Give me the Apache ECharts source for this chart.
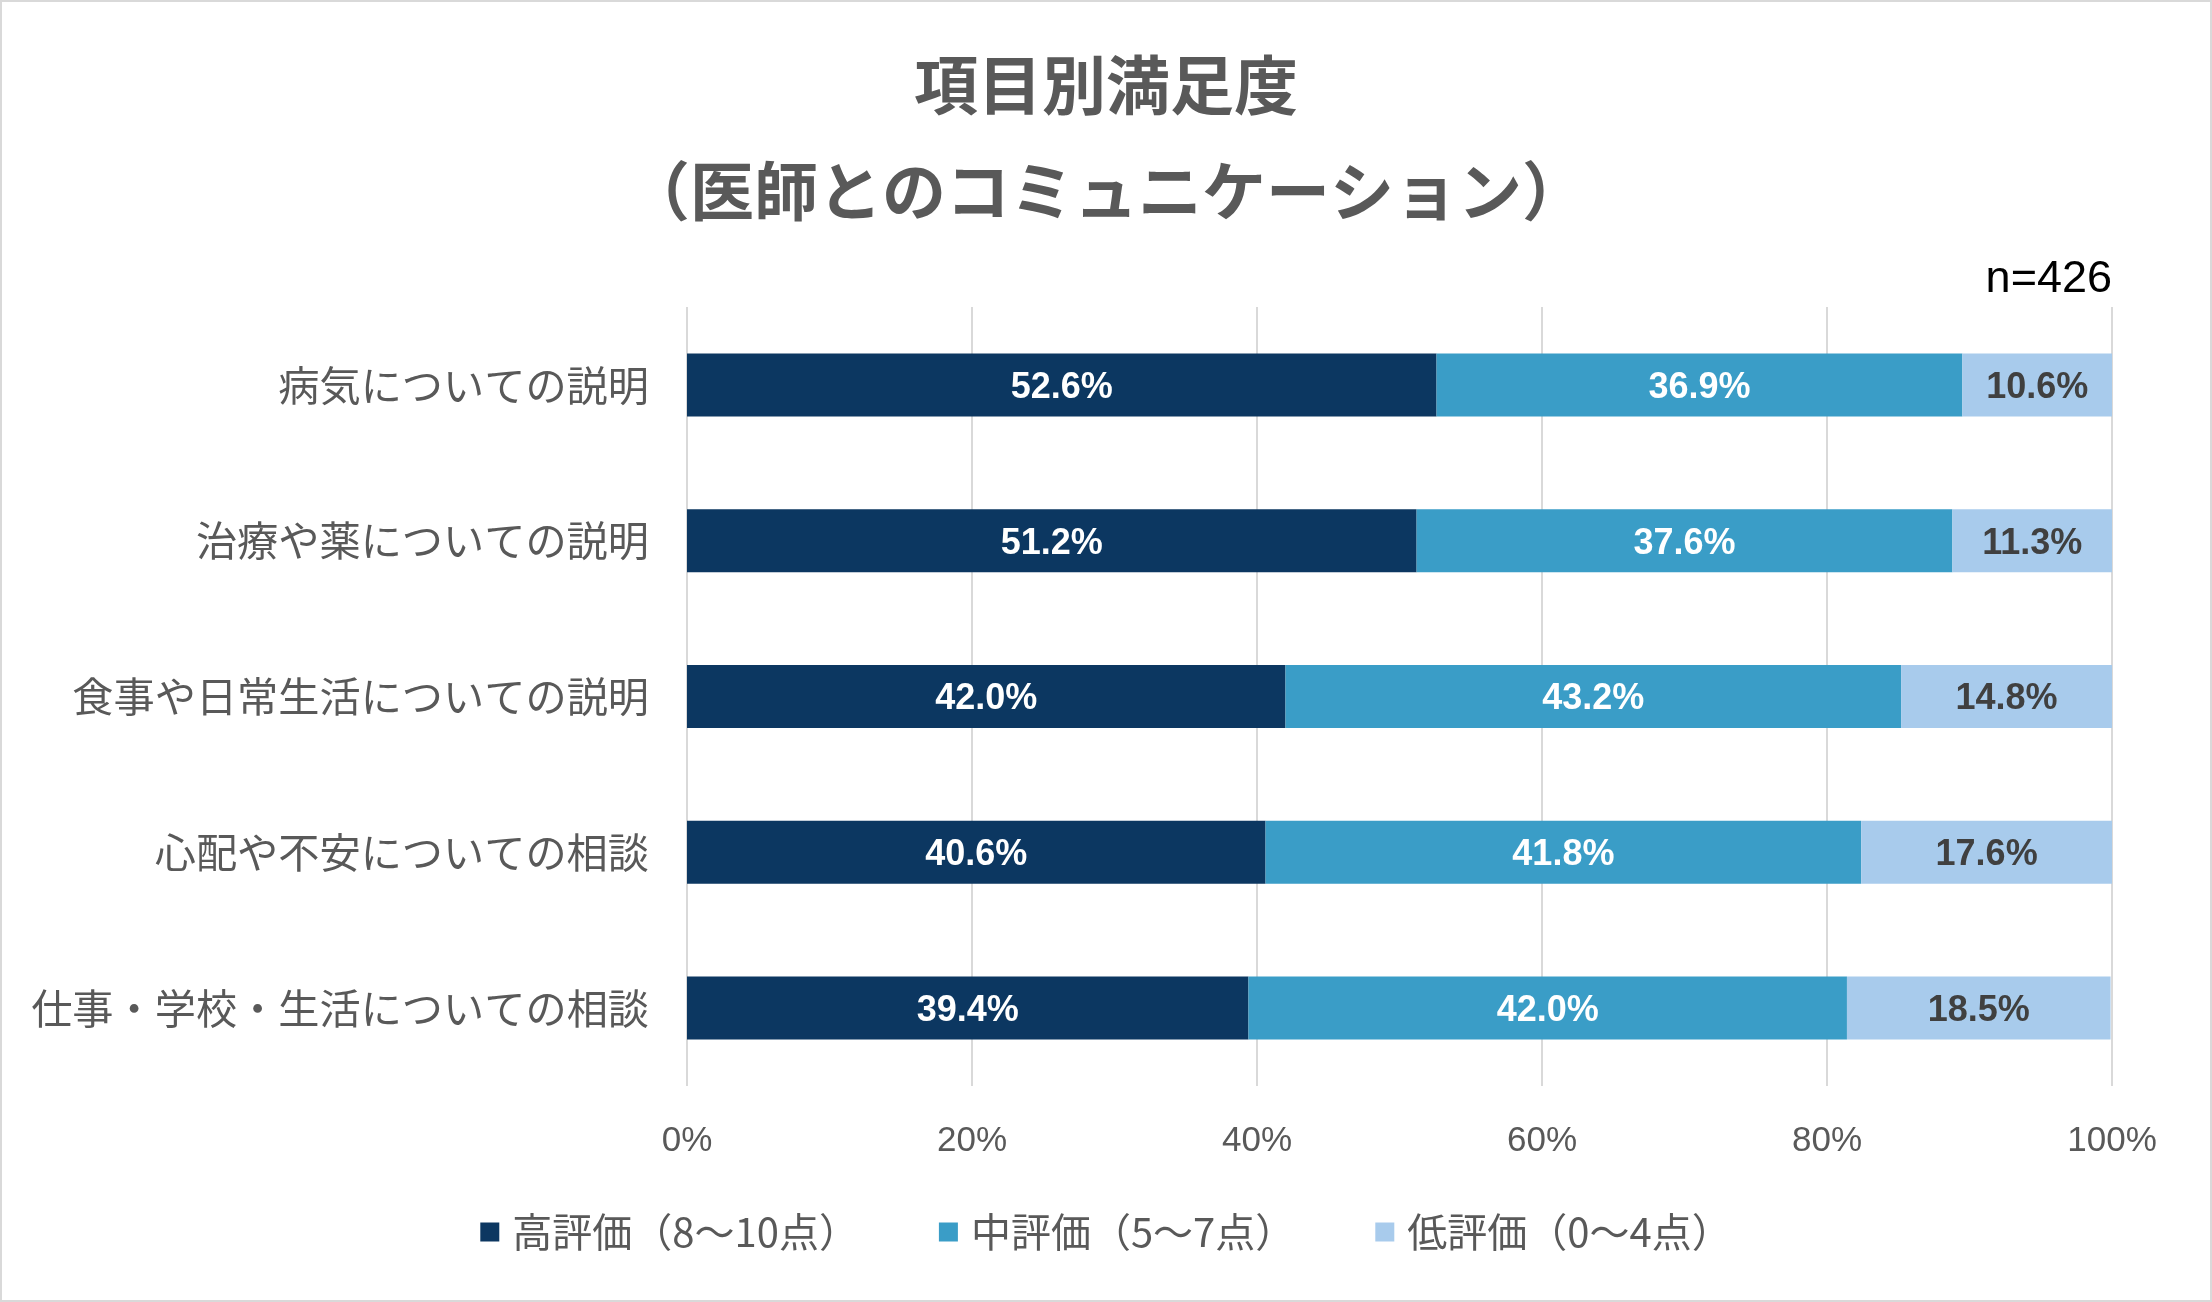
<!DOCTYPE html>
<html>
<head>
<meta charset="utf-8">
<script src="https://cdn.jsdelivr.net/npm/echarts@6/dist/echarts.min.js"></script>
<style>
html,body{margin:0;padding:0;background:#fff;}
#c{width:2212px;height:1302px;}
</style>
</head>
<body>
<div id="c"></div>
<script>
const categories = ['病気についての説明','治療や薬についての説明','食事や日常生活についての説明','心配や不安についての相談','仕事・学校・生活についての相談'];
const seriesNames = ['高評価（8〜10点）','中評価（5〜7点）','低評価（0〜4点）'];
const highValues = [52.6, 51.2, 42.0, 40.6, 39.4];
const midValues = [36.9, 37.6, 43.2, 41.8, 42.0];
const lowValues = [10.6, 11.3, 14.8, 17.6, 18.5];
const tickLabels = ['0%','20%','40%','60%','80%','100%'];
const sampleText = 'n=426';

const colors = ['#0C3761', '#3A9DC7', '#A8CBEC'];
const labelColors = ['#ffffff', '#ffffff', '#404040'];
const jp = '"Noto Sans CJK JP", "Noto Sans", sans-serif';
const lat = '"Liberation Sans", Arial, sans-serif';

const chart = echarts.init(document.getElementById('c'));
const dataSets = [highValues, midValues, lowValues];

chart.setOption({
  animation: false,
  backgroundColor: '#ffffff',
  title: {
    text: '項目別満足度\n（医師とのコミュニケーション）',
    left: 'center',
    top: 27,
    textStyle: {fontFamily: jp, fontSize: 64, fontWeight: 'bold', color: '#595959', lineHeight: 106}
  },
  graphic: [
    {type: 'rect', shape: {x: 1, y: 1, width: 2210, height: 1300}, style: {fill: 'none', stroke: '#D9D9D9', lineWidth: 2}, silent: true},
    {type: 'text', right: 100, top: 257, style: {text: sampleText, font: '45px ' + lat, fill: '#000000', textAlign: 'right'}}
  ],
  legend: {
    data: seriesNames,
    left: 'center',
    top: 1207,
    icon: 'rect',
    itemWidth: 19,
    itemHeight: 19,
    itemGap: 80,
    textStyle: {fontFamily: jp, fontSize: 40, color: '#595959', padding: [0, 0, 0, 8]}
  },
  grid: {left: 687, right: 100, top: 307, bottom: 216, containLabel: false},
  xAxis: {
    type: 'value',
    min: 0, max: 100, interval: 20,
    axisLine: {show: false},
    axisTick: {show: false},
    splitLine: {show: true, lineStyle: {color: '#D9D9D9', width: 2}},
    axisLabel: {
      margin: 38,
      fontFamily: lat, fontSize: 35, color: '#595959',
      formatter: function (v) { return tickLabels[Math.round(v / 20)]; }
    }
  },
  yAxis: {
    type: 'category',
    data: categories,
    inverse: true,
    axisLine: {show: false},
    axisTick: {show: false},
    splitLine: {show: false},
    axisLabel: {margin: 38, fontFamily: jp, fontSize: 41.2, color: '#595959'}
  },
  series: seriesNames.map(function (name, i) {
    return {
      name: name,
      type: 'bar',
      stack: 'total',
      barWidth: 63,
      itemStyle: {color: colors[i]},
      label: {
        show: true,
        position: 'inside',
        offset: [0, 3],
        fontFamily: lat, fontSize: 36, fontWeight: 'bold', color: labelColors[i],
        formatter: function (p) { return p.value.toFixed(1) + '%'; }
      },
      data: dataSets[i]
    };
  })
});
</script>
</body>
</html>
